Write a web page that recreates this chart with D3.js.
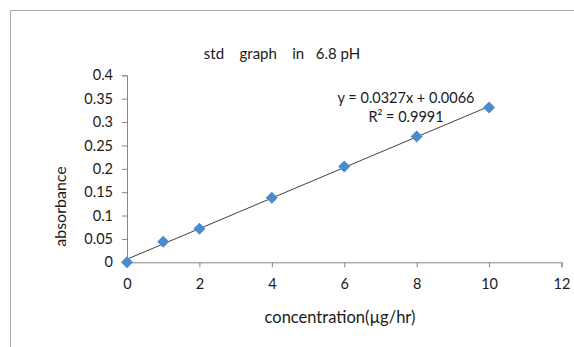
<!DOCTYPE html>
<html>
<head>
<meta charset="utf-8">
<script src="https://cdn.jsdelivr.net/npm/d3@7"></script>
<style>
  body { margin: 0; background: #fff; }
  text { font-family: Lato, "Open Sans", sans-serif; fill: #1a1a1a; }
</style>
</head>
<body>
<script>
// data
const concentration = [0, 1, 2, 4, 6, 8, 10];
const absorbance = [0, 0.044, 0.072, 0.138, 0.205, 0.269, 0.331];
const xTicks = [0, 2, 4, 6, 8, 10, 12];
const yTicks = [0, 0.05, 0.1, 0.15, 0.2, 0.25, 0.3, 0.35, 0.4];
const slope = 0.0327, intercept = 0.0066;

const width = 574, height = 347;
const margin = {left: 127, right: 12.5, top: 75.3, bottom: 84.7};

const svg = d3.select("body").append("svg")
    .attr("width", width).attr("height", height);

// outer chart border
svg.append("path")
    .attr("d", "M10.5," + height + "V10.5H" + width)
    .attr("fill", "none").attr("stroke", "#a6a6a6");

const x = d3.scaleLinear().domain([0, 12]).range([margin.left, width - margin.right]);
const y = d3.scaleLinear().domain([0, 0.4]).range([height - margin.bottom, margin.top]);

const xAxis = svg.append("g")
    .attr("transform", "translate(0," + y(0) + ")")
    .call(d3.axisBottom(x).tickValues(xTicks).tickSize(5).tickPadding(11));

const yAxis = svg.append("g")
    .attr("transform", "translate(" + x(0) + ",0)")
    .call(d3.axisLeft(y).tickValues(yTicks).tickSize(5).tickPadding(9)
        .tickFormat(d => String(+d.toFixed(2))));

[xAxis, yAxis].forEach(function(a) {
    a.select(".domain").attr("stroke", "#868686");
    a.selectAll(".tick line").attr("stroke", "#868686");
    a.selectAll(".tick text").attr("font-size", 14.5).attr("fill", "#1a1a1a")
        .style("font-family", "Lato, 'Open Sans', sans-serif");
});

// linear trend line
svg.append("line")
    .attr("x1", x(0)).attr("y1", y(intercept))
    .attr("x2", x(10)).attr("y2", y(slope * 10 + intercept))
    .attr("stroke", "#404040").attr("stroke-width", 1);

// diamond markers
svg.selectAll(".pt").data(concentration).enter().append("path")
    .attr("class", "pt")
    .attr("transform", (d, i) => "translate(" + x(d) + "," + y(absorbance[i]) + ")")
    .attr("d", "M0,-6L6,0L0,6L-6,0Z")
    .attr("fill", "#4a8bd0");

svg.append("text")
    .attr("x", 282).attr("y", 58.5)
    .attr("text-anchor", "middle").attr("font-size", 15)
    .style("white-space", "pre")
    .text("std    graph    in   6.8 pH");

svg.append("text")
    .attr("transform", "translate(66,206.5) rotate(-90)")
    .attr("text-anchor", "middle").attr("font-size", 16)
    .text("absorbance");

svg.append("text")
    .attr("x", 340).attr("y", 323)
    .attr("text-anchor", "middle").attr("font-size", 16.5)
    .text("concentration(\u00b5g/hr)");

const eq = svg.append("text").attr("text-anchor", "middle").attr("font-size", 14.5);
eq.append("tspan").attr("x", 406).attr("y", 103).text("y = 0.0327x + 0.0066");
eq.append("tspan").attr("x", 406).attr("y", 122).text("R\u00b2 = 0.9991");
</script>
</body>
</html>
